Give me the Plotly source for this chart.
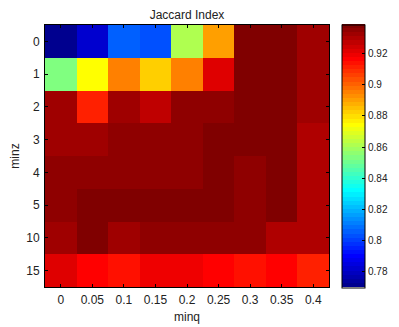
import numpy as np
import plotly.graph_objects as go

minq_labels = ["0", "0.05", "0.1", "0.15", "0.2", "0.25", "0.3", "0.35", "0.4"]
minz_labels = ["0", "1", "2", "3", "4", "5", "10", "15"]

row_minz0 = [0.770, 0.782, 0.806, 0.803, 0.861, 0.890, 0.938, 0.938, 0.932]
row_minz1 = [0.853, 0.874, 0.895, 0.882, 0.895, 0.9215, 0.938, 0.938, 0.932]
row_minz2 = [0.932, 0.911, 0.932, 0.927, 0.935, 0.935, 0.938, 0.9386, 0.932]
row_minz3 = [0.932, 0.932, 0.935, 0.935, 0.935, 0.938, 0.938, 0.938, 0.9294]
row_minz4 = [0.935, 0.935, 0.935, 0.935, 0.935, 0.938, 0.935, 0.938, 0.9294]
row_minz5 = [0.935, 0.938, 0.938, 0.938, 0.938, 0.938, 0.935, 0.938, 0.9294]
row_minz10 = [0.932, 0.938, 0.932, 0.935, 0.935, 0.935, 0.935, 0.9294, 0.9294]
row_minz15 = [0.9215, 0.9162, 0.9136, 0.9188, 0.9188, 0.9162, 0.9136, 0.9162, 0.9109]

cbar_ticks = [0.78, 0.80, 0.82, 0.84, 0.86, 0.88, 0.90, 0.92]
cbar_text = ["0.78", "0.8", "0.82", "0.84", "0.86", "0.88", "0.9", "0.92"]

z = [row_minz0, row_minz1, row_minz2, row_minz3, row_minz4, row_minz5, row_minz10, row_minz15]
zmin, zmax = 0.770, 0.9386


def jet(n=64):
    m = int(np.ceil(n / 4))
    u = np.concatenate([np.arange(1, m + 1) / m, np.ones(m - 1), np.arange(m, 0, -1) / m])
    g = int(np.ceil(m / 2)) - (1 if n % 4 == 1 else 0) + np.arange(1, len(u) + 1)
    r = g + m
    b = g - m
    J = np.zeros((n, 3))
    for idx, col in ((r, 0), (g, 1), (b, 2)):
        for k, pos in enumerate(idx):
            if 1 <= pos <= n:
                J[pos - 1, col] = u[k]
    return J


J = jet(64)
colorscale = []
for i, (rr, gg, bb) in enumerate(J):
    c = "rgb(%d,%d,%d)" % (round(rr * 255), round(gg * 255), round(bb * 255))
    colorscale.append([i / 64, c])
    colorscale.append([(i + 1) / 64, c])

font = "Liberation Sans, Arial, Helvetica, sans-serif"
# page body has an 8px default margin; place everything relative to the
# figure's own top-left corner
OFF = 8
W, H = 399 - OFF, 327 - OFF
PL, PR, PT, PB = 45 - OFF, 329 - OFF, 25 - OFF, 287 - OFF

fig = go.Figure(
    go.Heatmap(
        z=z,
        x=minq_labels,
        y=minz_labels,
        zmin=zmin,
        zmax=zmax,
        colorscale=colorscale,
        colorbar=dict(
            x=(342 - OFF) / W,
            xanchor="left",
            xpad=0,
            y=1 - (24.5 - OFF) / H,
            yanchor="top",
            ypad=0,
            len=263,
            lenmode="pixels",
            thickness=23,
            thicknessmode="pixels",
            outlinewidth=1,
            outlinecolor="black",
            tickvals=cbar_ticks,
            ticktext=cbar_text,
            ticks="inside",
            ticklen=3,
            tickcolor="black",
            ticklabeloverflow="allow",
            tickfont=dict(family=font, size=10, color="#222"),
        ),
    )
)

axis_common = dict(
    type="category",
    showline=True,
    linecolor="black",
    linewidth=1,
    mirror="ticks",
    ticks="inside",
    ticklen=3,
    tickcolor="black",
    showgrid=False,
    zeroline=False,
    automargin=False,
    tickfont=dict(family=font, size=12, color="#222"),
)

fig.update_layout(
    width=W,
    height=H,
    margin=dict(l=0, r=0, t=0, b=0, autoexpand=False),
    paper_bgcolor="white",
    plot_bgcolor="white",
    title=dict(
        text="Jaccard Index",
        x=(187 - OFF) / W,
        xanchor="center",
        y=1 - 7.2 / H,
        yanchor="middle",
        font=dict(family=font, size=12, color="#222"),
    ),
    xaxis=dict(
        **axis_common,
        domain=[PL / W, PR / W],
        title=dict(text="minq", font=dict(family=font, size=12, color="#222"), standoff=6),
        ticklabelstandoff=2,
    ),
    yaxis=dict(
        **axis_common,
        domain=[1 - PB / H, 1 - PT / H],
        autorange="reversed",
        title=dict(text="minz", font=dict(family=font, size=12, color="#222"), standoff=9),
        ticklabelstandoff=2,
    ),
)

fig.write_html("out.html")
